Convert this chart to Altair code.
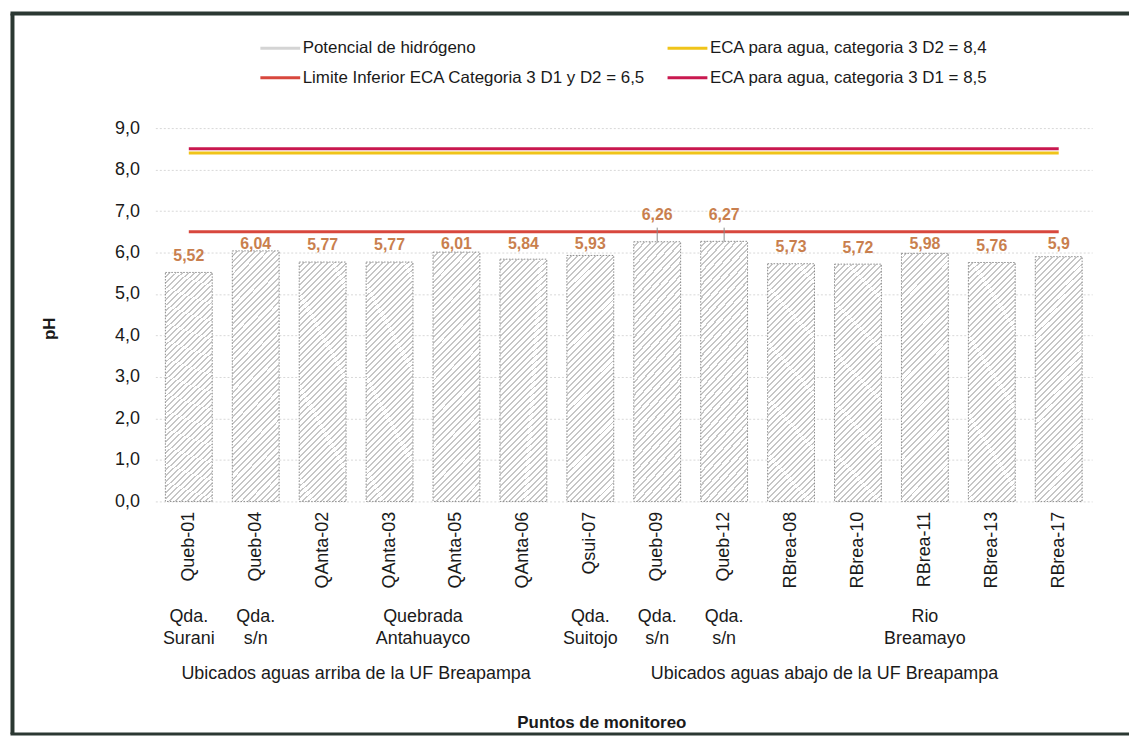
import altair as alt
import pandas as pd

# ---------------- data ----------------
categories = ["Queb-01", "Queb-04", "QAnta-02", "QAnta-03", "QAnta-05", "QAnta-06",
              "Qsui-07", "Queb-09", "Queb-12", "RBrea-08", "RBrea-10", "RBrea-11",
              "RBrea-13", "RBrea-17"]
ph_values = [5.52, 6.04, 5.77, 5.77, 6.01, 5.84, 5.93, 6.26, 6.27, 5.73, 5.72, 5.98, 5.76, 5.9]

series_names = ["Potencial de hidrógeno",
                "Limite Inferior ECA Categoria 3 D1 y D2 = 6,5",
                "ECA para agua, categoria 3 D2 = 8,4",
                "ECA para agua, categoria 3 D1 = 8,5"]
series_colors = ["#d4d4d4", "#d8473d", "#f0c419", "#c9184f"]
standard_series = series_names[1:]
standard_values = [6.5, 8.4, 8.5]

group_labels = ["Qda.\nSurani", "Qda.\ns/n", "Quebrada\nAntahuayco", "Qda.\nSuitojo",
                "Qda.\ns/n", "Qda.\ns/n", "Rio\nBreamayo"]
group_anchor = ["Queb-01", "Queb-04", "QAnta-03", "Qsui-07", "Queb-09", "Queb-12", "RBrea-11"]
group_between = [False, False, True, False, False, False, False]

zone_labels = ["Ubicados aguas arriba de la UF Breapampa",
               "Ubicados aguas abajo de la UF Breapampa"]
zone_anchor = ["QAnta-02", "RBrea-08"]

y_ticks = [0, 1, 2, 3, 4, 5, 6, 7, 8, 9]

# ---------------- layout ----------------
W, H = 941, 375
STEP = W / len(categories)
FONT = "Liberation Sans"

bars_df = pd.DataFrame({"cat": categories, "pH": ph_values})
lines_df = pd.DataFrame([
    {"cat": c, "series": s, "val": v}
    for s, v in zip(standard_series, standard_values)
    for c in categories
])
groups_df = pd.DataFrame({"cat": group_anchor, "txt": group_labels, "between": group_between})
zones_df = pd.DataFrame({"cat": zone_anchor, "txt": zone_labels})

xscale = alt.Scale(domain=categories, paddingInner=0.3, paddingOuter=0.15)
yscale = alt.Scale(domain=[0, 9], nice=False)

# hatch-like fill via a striped linear gradient
bg, ln = "#ffffff", "#c6c6c6"
periods = 48
stops = []
for i in range(periods):
    a = i / periods
    b = (i + 0.68) / periods
    c = (i + 1) / periods
    stops += [alt.GradientStop(offset=a, color=bg), alt.GradientStop(offset=b, color=bg),
              alt.GradientStop(offset=b, color=ln), alt.GradientStop(offset=c, color=ln)]
hatch = alt.LinearGradient(gradient="linear", x1=0, y1=0, x2=0.218, y2=1.149, stops=stops)

x_axis = alt.Axis(
    title="Puntos de monitoreo", labelAngle=-90, labelFontSize=18, labelFont=FONT,
    labelColor="#1a1a1a", labelPadding=10, ticks=False, domain=False,
    titleFont=FONT, titleFontSize=17, titleFontWeight="bold", titleColor="#1a1a1a",
    titleX=448, titleY=222, titleBaseline="middle", titleAnchor="middle",
)
y_axis = alt.Axis(
    title="pH", values=y_ticks, labelExpr="replace(format(datum.value, '.1f'), '.', ',')",
    labelFontSize=18, labelFont=FONT, labelColor="#1a1a1a", labelPadding=16,
    ticks=False, domain=False, grid=True, gridColor="#d8d8d8", gridDash=[2, 2],
    titleFont=FONT, titleFontSize=17, titleFontWeight="bold", titleColor="#1a1a1a",
    titleX=-106, titleY=201, titleAngle=-90, titleAlign="center", titleBaseline="middle",
)

bars = alt.Chart(bars_df).mark_bar(
    fill=hatch, stroke="#8c8c8c", strokeWidth=1, strokeDash=[1.5, 1.5]
).encode(
    x=alt.X("cat:N", scale=xscale, axis=x_axis),
    y=alt.Y("pH:Q", scale=yscale, axis=y_axis),
)

lines = alt.Chart(lines_df).mark_line(strokeWidth=3).encode(
    x=alt.X("cat:N", scale=xscale),
    y=alt.Y("val:Q", scale=yscale),
    color=alt.Color("series:N",
                    scale=alt.Scale(domain=series_names, range=series_colors),
                    legend=alt.Legend(title=None, orient="none", legendX=104, legendY=-102,
                                      columns=2, columnPadding=15, rowPadding=-17,
                                      symbolType="stroke", symbolSize=1600,
                                      symbolStrokeWidth=3, labelFontSize=17,
                                      labelFont=FONT, labelColor="#1a1a1a",
                                      labelLimit=600, labelOffset=1, padding=0,
                                      direction="vertical")),
    order=alt.Order("val:Q"),
)

labels_base = alt.Chart(bars_df).transform_calculate(
    label_y="datum.pH > 6.2 ? 6.9 : min(datum.pH + 0.4, 6.2)",
    label_txt="replace(toString(datum.pH), '.', ',')",
    leader_top="6.6",
)

value_labels = labels_base.mark_text(
    fontSize=16, fontWeight="bold", font=FONT, color="#c97f4e", baseline="middle"
).encode(
    x=alt.X("cat:N", scale=xscale),
    y=alt.Y("label_y:Q", scale=yscale),
    text="label_txt:N",
)

leaders = labels_base.transform_filter("datum.pH > 6.2").mark_rule(
    color="#8a8a8a", strokeWidth=1
).encode(
    x=alt.X("cat:N", scale=xscale),
    y=alt.Y("pH:Q", scale=yscale),
    y2="leader_top:Q",
)

group_text_single = alt.Chart(groups_df).transform_filter("!datum.between").mark_text(
    fontSize=18, font=FONT, color="#1a1a1a", lineBreak="\n", lineHeight=22, baseline="middle"
).encode(x=alt.X("cat:N", scale=xscale), y=alt.value(491), text="txt:N")

group_text_between = alt.Chart(groups_df).transform_filter("datum.between").mark_text(
    fontSize=18, font=FONT, color="#1a1a1a", lineBreak="\n", lineHeight=22,
    baseline="middle", dx=STEP / 2
).encode(x=alt.X("cat:N", scale=xscale), y=alt.value(491), text="txt:N")

zone_text = alt.Chart(zones_df).mark_text(
    fontSize=18, font=FONT, color="#1a1a1a", baseline="middle", dx=STEP / 2
).encode(x=alt.X("cat:N", scale=xscale), y=alt.value(548), text="txt:N")

one = alt.Data(values=[{"k": 1}])
FRAME = "#2b3832"
frame_left = alt.Chart(one).mark_rule(color=FRAME, strokeWidth=4).encode(
    x=alt.value(-143.5), y=alt.value(-115), y2=alt.value(608.5))
frame_top = alt.Chart(one).mark_rule(color=FRAME, strokeWidth=4).encode(
    x=alt.value(-145.5), x2=alt.value(978), y=alt.value(-115))
frame_bottom = alt.Chart(one).mark_rule(color=FRAME, strokeWidth=3).encode(
    x=alt.value(-145.5), x2=alt.value(978), y=alt.value(608.5))

chart = alt.layer(
    bars, lines, leaders, value_labels, group_text_single, group_text_between, zone_text,
    frame_left, frame_top, frame_bottom,
).properties(
    width=W, height=H, padding={"left": 0, "top": 2, "right": 0, "bottom": 0},
    background="white",
).configure_view(stroke=None)

chart.save("out.html", embed_options={"renderer": "svg", "actions": False})
